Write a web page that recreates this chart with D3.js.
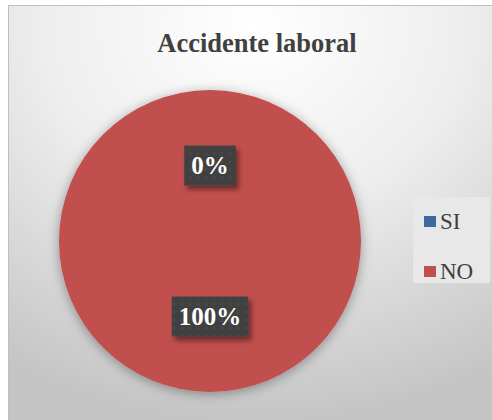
<!DOCTYPE html>
<html>
<head>
<meta charset="utf-8">
<script src="https://cdn.jsdelivr.net/npm/d3@7"></script>
<style>
  body { margin: 0; background: #fff; }
</style>
</head>
<body>
<div id="chart"></div>
<script>
const categories = ["SI", "NO"]
const values = [0, 100]
const labels = ["0%", "100%"]
const colors = ["#3d6aa2", "#c0504d"]

const width = 492
const height = 420
const serif = "Liberation Serif"

const svg = d3.select("#chart").append("svg")
  .attr("width", width)
  .attr("height", height)

const defs = svg.append("defs")

// background gradient, light at top, grey at bottom
const bg = defs.append("radialGradient")
  .attr("id", "bg")
  .attr("cx", "50%").attr("cy", "5%").attr("r", "95%")
bg.append("stop").attr("offset", "0%").attr("stop-color", "#ffffff")
bg.append("stop").attr("offset", "45%").attr("stop-color", "#eeeeee")
bg.append("stop").attr("offset", "100%").attr("stop-color", "#c4c4c4")

const shadow = defs.append("filter").attr("id", "shadow")
  .attr("x", "-20%").attr("y", "-20%").attr("width", "140%").attr("height", "140%")
shadow.append("feDropShadow")
  .attr("dx", 0).attr("dy", 2).attr("stdDeviation", 6)
  .attr("flood-color", "#000").attr("flood-opacity", 0.35)

const boxShadow = defs.append("filter").attr("id", "boxShadow")
  .attr("x", "-20%").attr("y", "-30%").attr("width", "150%").attr("height", "170%")
boxShadow.append("feDropShadow")
  .attr("dx", 3).attr("dy", 4).attr("stdDeviation", 2.5)
  .attr("flood-color", "#000").attr("flood-opacity", 0.45)

// dotted texture for label boxes
const pat = defs.append("pattern").attr("id", "dots")
  .attr("width", 8).attr("height", 8).attr("patternUnits", "userSpaceOnUse")
pat.append("rect").attr("width", 8).attr("height", 8).attr("fill", "#404040")
pat.append("circle").attr("cx", 4).attr("cy", 4).attr("r", 1.6).attr("fill", "#4a4a4a")

// chart frame
svg.append("rect")
  .attr("x", 8.5).attr("y", 5.5)
  .attr("width", 490).attr("height", 420)
  .attr("fill", "url(#bg)")
  .attr("stroke", "#bfbfbf")

// title
svg.append("text")
  .attr("x", 257).attr("y", 52)
  .attr("text-anchor", "middle")
  .attr("font-family", serif)
  .attr("font-weight", "bold")
  .attr("font-size", 26.5)
  .attr("fill", "#404040")
  .text("Accidente laboral")

// pie
const cx = 210, cy = 241, r = 151
const pie = d3.pie().sort(null).value(d => d)
const arc = d3.arc().innerRadius(0).outerRadius(r)
const arcs = pie(values)

const g = svg.append("g").attr("transform", `translate(${cx},${cy})`)

g.append("g").attr("filter", "url(#shadow)")
  .selectAll("path")
  .data(arcs)
  .enter().append("path")
  .attr("d", arc)
  .attr("fill", (d, i) => colors[i])

// data labels
const labelG = g.selectAll(".lbl")
  .data(arcs)
  .enter().append("g")
  .attr("class", "lbl")
  .attr("transform", d => {
    const a = (d.startAngle + d.endAngle) / 2
    return `translate(${Math.sin(a) * r / 2},${-Math.cos(a) * r / 2})`
  })

const boxes = labelG.append("rect")
  .attr("y", -20)
  .attr("height", 40)
  .attr("fill", "url(#dots)")
  .attr("filter", "url(#boxShadow)")

const texts = labelG.append("text")
  .attr("text-anchor", "middle")
  .attr("dy", "0.35em")
  .attr("font-family", serif)
  .attr("font-weight", "bold")
  .attr("font-size", 25)
  .attr("fill", "#ffffff")
  .text((d, i) => labels[i])

// size boxes to their text
texts.each(function (d, i) {
  const w = this.getBBox().width + 14
  d3.select(boxes.nodes()[i]).attr("x", -w / 2).attr("width", w)
})

// legend
svg.append("rect")
  .attr("x", 413).attr("y", 197)
  .attr("width", 77).attr("height", 86)
  .attr("fill", "#e8e8e8")

const items = svg.append("g").selectAll("g")
  .data(categories)
  .enter().append("g")
  .attr("transform", (d, i) => `translate(424,${221 + i * 50})`)

items.append("rect")
  .attr("x", 0).attr("y", -5)
  .attr("width", 12).attr("height", 11)
  .attr("fill", (d, i) => colors[i])

items.append("text")
  .attr("x", 16).attr("dy", "0.35em")
  .attr("font-family", serif)
  .attr("font-size", 23)
  .attr("fill", "#404040")
  .text(d => d)
</script>
</body>
</html>
